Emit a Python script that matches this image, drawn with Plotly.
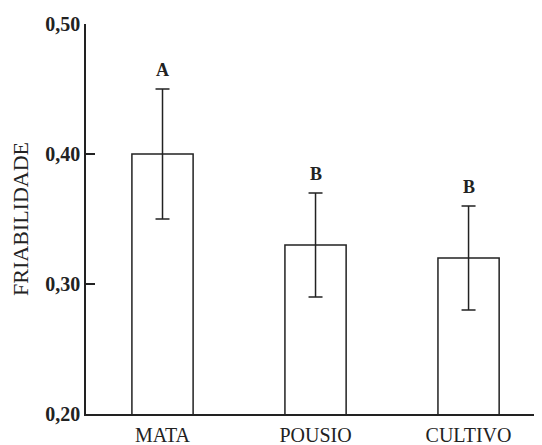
import plotly.graph_objects as go

categories = ["MATA", "POUSIO", "CULTIVO"]
means = [0.40, 0.33, 0.32]
err_upper = [0.05, 0.04, 0.04]
err_lower = [0.05, 0.04, 0.04]
letters = ["A", "B", "B"]
y_ticks = [0.20, 0.30, 0.40, 0.50]
y_tick_labels = ["0,20", "0,30", "0,40", "0,50"]

LINE = "#222222"
FONT = "Liberation Serif, Times New Roman, serif"

fig = go.Figure()
fig.add_trace(go.Bar(
    x=categories, y=means, base=0,
    width=0.4,
    marker=dict(color="white", line=dict(color=LINE, width=1.5)),
    error_y=dict(type="data", symmetric=False, array=err_upper, arrayminus=err_lower,
                 color=LINE, thickness=1.5, width=7),
))

for c, m, e, l in zip(categories, means, err_upper, letters):
    fig.add_annotation(x=c, y=m + e, text="<b>%s</b>" % l, showarrow=False,
                       yanchor="bottom", yshift=7,
                       font=dict(family=FONT, size=18, color=LINE))

fig.update_layout(
    width=534, height=437,
    margin=dict(l=78, r=0, t=16, b=31),
    plot_bgcolor="white", paper_bgcolor="white",
    showlegend=False,
    font=dict(family=FONT, color=LINE),
    xaxis=dict(
        range=[-0.5, 2.48], showline=True, linecolor=LINE, linewidth=1.5,
        ticks="", showgrid=False, zeroline=False, automargin=False,
        tickfont=dict(family=FONT, size=20, color=LINE),
        ticklabelstandoff=2,
    ),
    yaxis=dict(
        range=[0.20, 0.50], tickvals=y_ticks, ticktext=["<b>%s</b>" % t for t in y_tick_labels],
        showline=True, linecolor=LINE, linewidth=1.5,
        ticks="inside", ticklen=9, tickwidth=1.5, tickcolor=LINE,
        showgrid=False, zeroline=False, automargin=False,
        tickfont=dict(family=FONT, size=20, color=LINE),
        title=dict(text="FRIABILIDADE", font=dict(family=FONT, size=22, color=LINE), standoff=14),
    ),
)

fig.write_html("out.html")
